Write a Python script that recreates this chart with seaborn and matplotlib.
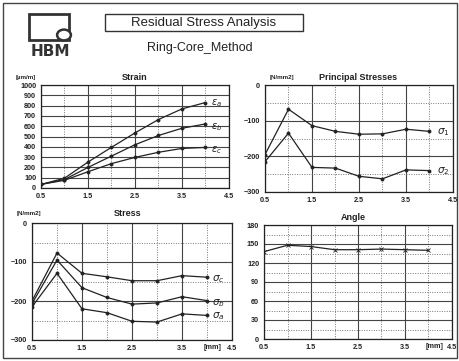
import pandas as pd
import seaborn as sns
import matplotlib.pyplot as plt
from matplotlib.patches import Rectangle, Circle

# measuring depth [mm]
depth = [0.5, 1.0, 1.5, 2.0, 2.5, 3.0, 3.5, 4.0]

# released strains [um/m]
strain_a = [35, 95, 252, 395, 535, 665, 768, 830]
strain_b = [35, 82, 200, 310, 420, 510, 580, 622]
strain_c = [35, 75, 158, 237, 297, 347, 384, 394]

# principal stresses [N/mm2]
sigma_1 = [-195, -68, -114, -130, -138, -137, -124, -130]
sigma_2 = [-215, -135, -231, -233, -256, -263, -238, -240]

# stresses in gauge directions [N/mm2]
stress_a = [-215, -129, -220, -230, -252, -254, -233, -237]
stress_b = [-207, -95, -166, -191, -208, -205, -189, -199]
stress_c = [-200, -77, -129, -138, -148, -148, -135, -139]

# principal direction [deg]
angle = [138, 148, 146, 141, 141, 142, 141, 140]

W, H = 460, 361
INK = '#222222'
GRID = '#444444'


def px(x, y):
    # pixel position (top-left origin) -> figure fraction
    return x / W, 1 - y / H


def add_panel(fig, x0, y0, x1, y1):
    l, t = px(x0, y0)
    r, b = px(x1, y1)
    return fig.add_axes([l, b, r - l, t - b])


def long_df(series):
    rows = []
    for name, vals in series.items():
        for d, v in zip(depth, vals):
            rows.append({'depth': d, 'value': v, 'series': name})
    return pd.DataFrame(rows)


def draw_lines(ax, series, marker='o', ms=2.2):
    df = long_df(series)
    sns.lineplot(data=df, x='depth', y='value', hue='series',
                 palette={k: INK for k in series}, marker=marker, markersize=ms,
                 markeredgewidth=0.6, markeredgecolor=INK, linewidth=0.9,
                 legend=False, ax=ax)


def style_panel(ax, ylim, ymajor, yminor, mm_label=False):
    ax.set_xlim(0.5, 4.5)
    ax.set_ylim(*ylim)
    ax.set_xticks([0.5, 1.5, 2.5, 3.5, 4.5])
    ax.set_xticks([1.0, 2.0, 3.0, 4.0], minor=True)
    ax.set_yticks(ymajor)
    ax.set_yticks(yminor, minor=True)
    ax.grid(which='major', color=GRID, lw=0.8, ls='-')
    ax.grid(which='minor', color='#777777', lw=0.7, ls=(0, (1, 1.5)))
    ax.set_axisbelow(True)
    for s in ax.spines.values():
        s.set_color(INK)
        s.set_linewidth(0.9)
    ax.tick_params(which='major', direction='out', length=2, width=0.7,
                   color=INK, labelsize=5.2, pad=1.5, labelcolor=INK)
    ax.tick_params(which='minor', length=0)
    for lab in ax.get_xticklabels() + ax.get_yticklabels():
        lab.set_fontweight('bold')
    ax.set_xlabel('')
    ax.set_ylabel('')
    if mm_label:
        ax.text(4.12, -0.035, '[mm]', transform=ax.get_xaxis_transform(),
                ha='center', va='top', fontsize=5.2, fontweight='bold', color=INK)


sns.set_style('white')
plt.rcParams['font.family'] = ['Liberation Sans', 'DejaVu Sans']
plt.rcParams['mathtext.fontset'] = 'dejavusans'

fig = plt.figure(figsize=(W / 100, H / 100), dpi=100)
fig.patch.set_facecolor('white')

# page frame
l, t = px(3, 3)
r, b = px(457, 358)
fig.patches.append(Rectangle((l, b), r - l, t - b, transform=fig.transFigure,
                             fill=False, ec='#444444', lw=1.0))

# HBM logo
l, t = px(29, 14)
r, b = px(69, 40)
fig.patches.append(Rectangle((l, b), r - l, t - b, transform=fig.transFigure,
                             fill=False, ec='#333333', lw=2.0))
cx, cy = px(64, 35)
fig.patches.append(Circle((cx, cy), 0.015, transform=fig.transFigure,
                          fc='white', ec='#333333', lw=1.8))
fig.text(*px(50, 51), 'HBM', ha='center', va='center', fontsize=11,
         fontweight='bold', color='#333333', family='DejaVu Sans')

# header box
l, t = px(105, 14)
r, b = px(303, 31)
fig.patches.append(Rectangle((l, b), r - l, t - b, transform=fig.transFigure,
                             fill=False, ec='#333333', lw=1.0))
fig.text(*px(204, 23), 'Residual Stress Analysis', ha='center', va='center',
         fontsize=9.5, color='#222222')
fig.text(*px(200, 48), 'Ring-Core_Method', ha='center', va='center',
         fontsize=9, color='#222222')

# Strain
ax1 = add_panel(fig, 41, 85, 229, 188)
draw_lines(ax1, {'a': strain_a, 'b': strain_b, 'c': strain_c})
style_panel(ax1, (0, 1000), list(range(0, 1001, 100)), [])
for lab, yv in [('a', 828), ('b', 595), ('c', 370)]:
    ax1.text(4.12, yv, r'$\varepsilon_{' + lab + '}$', fontsize=7, color=INK,
             ha='left', va='center')
fig.text(*px(135, 77), 'Strain', ha='center', va='center', fontsize=6.5,
         fontweight='bold', color=INK)
fig.text(*px(26, 77), '[µm/m]', ha='center', va='center', fontsize=4.5,
         fontweight='bold', color=INK)

# Principal Stresses
ax2 = add_panel(fig, 265, 85, 453, 192)
draw_lines(ax2, {'1': sigma_1, '2': sigma_2})
style_panel(ax2, (-300, 0), [0, -100, -200, -300], [-50, -150, -250])
for lab, yv in [('1', -132), ('2', -240)]:
    ax2.text(4.15, yv, r'$\sigma_{' + lab + '}$', fontsize=7.5, color=INK,
             ha='left', va='center')
fig.text(*px(358, 77), 'Principal Stresses', ha='center', va='center',
         fontsize=6.5, fontweight='bold', color=INK)
fig.text(*px(282, 77), '[N/mm2]', ha='center', va='center', fontsize=4.5,
         fontweight='bold', color=INK)

# Stress
ax3 = add_panel(fig, 32, 223, 232, 340)
draw_lines(ax3, {'a': stress_a, 'b': stress_b, 'c': stress_c})
style_panel(ax3, (-300, 0), [0, -100, -200, -300], [-50, -150, -250], mm_label=True)
for lab, yv in [('c', -143), ('b', -205), ('a', -238)]:
    ax3.text(4.1, yv, r'$\sigma_{' + lab + '}$', fontsize=7.5, color=INK,
             ha='left', va='center')
fig.text(*px(128, 214), 'Stress', ha='center', va='center', fontsize=6.5,
         fontweight='bold', color=INK)
fig.text(*px(29, 213), '[N/mm2]', ha='center', va='center', fontsize=4.5,
         fontweight='bold', color=INK)

# Angle
ax4 = add_panel(fig, 264, 225, 452, 339)
draw_lines(ax4, {'phi': angle}, marker='x', ms=3.2)
style_panel(ax4, (0, 180), list(range(0, 181, 30)), list(range(15, 180, 30)),
            mm_label=True)
fig.text(*px(353, 217), 'Angle', ha='center', va='center', fontsize=6.5,
         fontweight='bold', color=INK)

fig.savefig('out.png', dpi=100, facecolor='white')
